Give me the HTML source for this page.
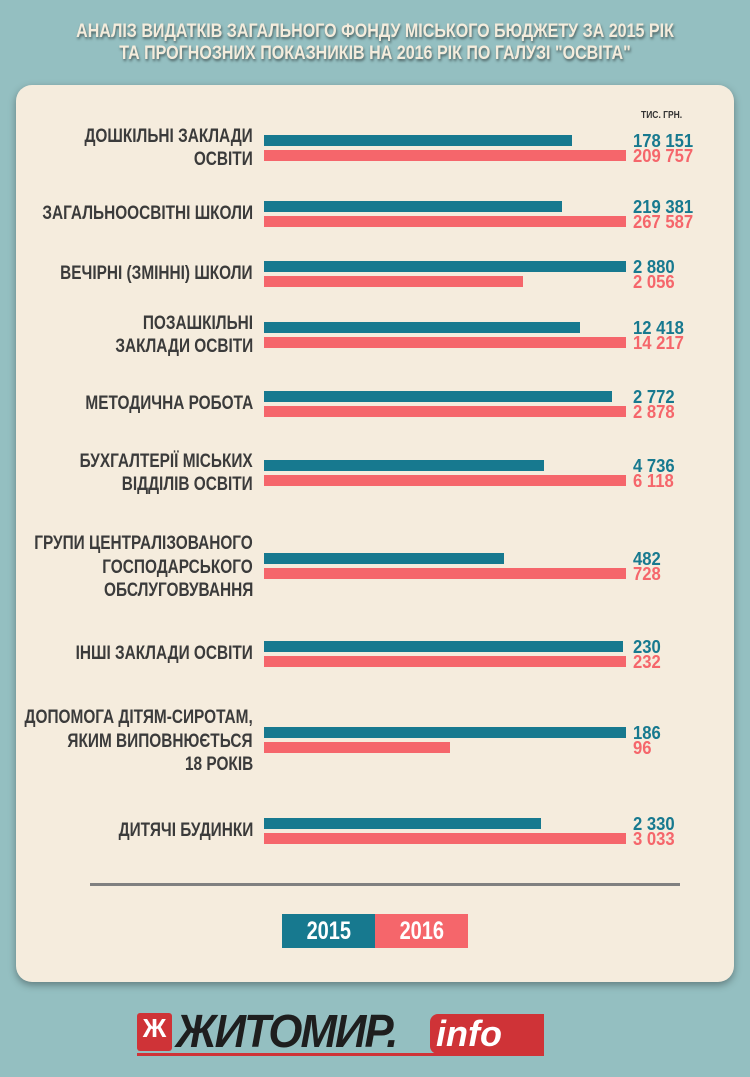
<!DOCTYPE html>
<html><head><meta charset="utf-8"><style>
body{margin:0;width:750px;height:1077px;background:#94bfc1;position:relative;overflow:hidden;font-family:"Liberation Sans",sans-serif;font-weight:bold}
.title{position:absolute;left:0;width:750px;text-align:center;color:#f4ecdc;font-size:19px;line-height:22px;top:21px;text-shadow:1px 2px 3px rgba(0,0,0,.5);transform:scaleX(0.845);transform-origin:center}
.card{position:absolute;left:16px;top:85px;width:718px;height:897px;background:#f5ecdd;border-radius:16px;box-shadow:0 3px 8px rgba(0,0,0,.35)}
.l{position:absolute;right:497px;color:#3b3b3b;font-size:19px;white-space:nowrap;transform:translateY(-50%) scaleX(0.81);transform-origin:right center;line-height:20px}
.b{position:absolute;left:264px;height:11px}
.t{background:#17798f}.p{background:#f5666b}
.v{position:absolute;left:633px;font-size:18.5px;line-height:16px;transform:translateY(-50%) scaleX(0.9);transform-origin:left center}
.vt{color:#17798f}.vp{color:#f5666b}
</style></head><body>
<div class="title">АНАЛІЗ ВИДАТКІВ ЗАГАЛЬНОГО ФОНДУ МІСЬКОГО БЮДЖЕТУ ЗА 2015 РІК<br>ТА ПРОГНОЗНИХ ПОКАЗНИКІВ НА 2016 РІК ПО ГАЛУЗІ "ОСВІТА"</div>
<div class="card"></div>
<div style="position:absolute;left:641px;top:110px;font-size:10px;color:#333;transform:scaleX(0.85);transform-origin:left">ТИС. ГРН.</div>
<div id="rows"></div>
<div style="position:absolute;left:90px;top:883px;width:590px;height:3px;background:#808080"></div>
<div style="position:absolute;left:282px;top:914px;width:93px;height:34px;background:#17798f;color:#fff;font-size:25px;line-height:34px;text-align:center"><span style="display:inline-block;transform:scaleX(0.8)">2015</span></div>
<div style="position:absolute;left:375px;top:914px;width:93px;height:34px;background:#f5666b;color:#fff;font-size:25px;line-height:34px;text-align:center"><span style="display:inline-block;transform:scaleX(0.8)">2016</span></div>
<div style="position:absolute;left:137px;top:1013px;width:35px;height:38px;background:#cf3337;border-radius:3px;color:#fff;font-size:26px;line-height:30px;text-align:center">Ж</div>
<div style="position:absolute;left:176px;top:1006px;font-style:italic;font-size:46px;font-weight:900;color:#1e1e1e;letter-spacing:-2px;line-height:50px;transform:scaleX(0.95);transform-origin:left">ЖИТОМИР.</div>
<div style="position:absolute;left:430px;top:1014px;width:114px;height:40px;background:#cf3337;border-radius:8px 0 0 8px;color:#fff;font-style:italic;font-size:36px;line-height:40px;padding-left:6px;box-sizing:border-box">info</div>
<div style="position:absolute;left:137px;top:1053px;width:407px;height:3px;background:#cf3337"></div>
<script>
var d=[[148,["ДОШКІЛЬНІ ЗАКЛАДИ","ОСВІТИ"],572,626,"178 151","209 757"],
[214,["ЗАГАЛЬНООСВІТНІ ШКОЛИ"],562,626,"219 381","267 587"],
[274,["ВЕЧІРНІ (ЗМІННІ) ШКОЛИ"],626,523,"2 880","2 056"],
[335,["ПОЗАШКІЛЬНІ","ЗАКЛАДИ ОСВІТИ"],580,626,"12 418","14 217"],
[404,["МЕТОДИЧНА РОБОТА"],612,626,"2 772","2 878"],
[473,["БУХГАЛТЕРІЇ МІСЬКИХ","ВІДДІЛІВ ОСВІТИ"],544,626,"4 736","6 118"],
[566,["ГРУПИ ЦЕНТРАЛІЗОВАНОГО","ГОСПОДАРСЬКОГО","ОБСЛУГОВУВАННЯ"],504,626,"482","728"],
[654,["ІНШІ ЗАКЛАДИ ОСВІТИ"],623,626,"230","232"],
[740,["ДОПОМОГА ДІТЯМ-СИРОТАМ,","ЯКИМ ВИПОВНЮЄТЬСЯ","18 РОКІВ"],626,450,"186","96"],
[831,["ДИТЯЧІ БУДИНКИ"],541,626,"2 330","3 033"]];
var h="";
d.forEach(function(r){var c=r[0],L=r[1];
var off=L.length==1?[0]:L.length==2?[-11,12]:[-22,2,25];
L.forEach(function(s,i){h+='<div class="l" style="top:'+(c+off[i])+'px">'+s+'</div>';});
h+='<div class="b t" style="top:'+(c-13)+'px;width:'+(r[2]-264)+'px"></div>';
h+='<div class="b p" style="top:'+(c+2)+'px;width:'+(r[3]-264)+'px"></div>';
h+='<div class="v vt" style="top:'+(c-7)+'px">'+r[4]+'</div>';
h+='<div class="v vp" style="top:'+(c+8)+'px">'+r[5]+'</div>';});
document.getElementById("rows").innerHTML=h;
</script>
</body></html>
